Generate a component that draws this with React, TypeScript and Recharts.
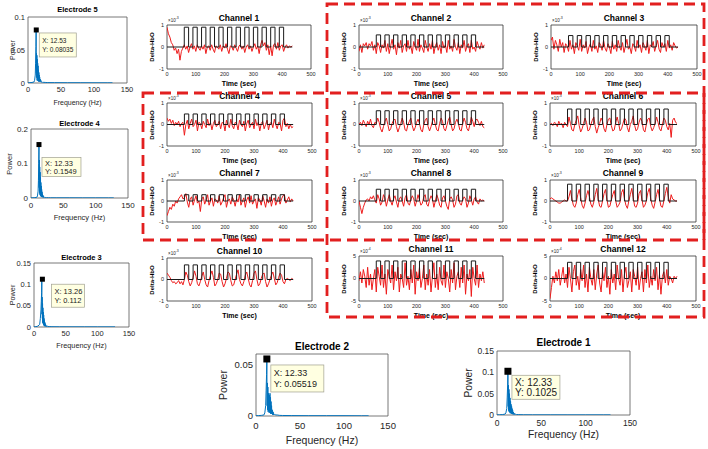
import React from "react";
import { LineChart, Line, XAxis, YAxis, ReferenceArea, ReferenceDot } from "recharts";

// ---- time series (units of 10^-3, channels 11/12 in 10^-4) ----
const TIME = [
  0, 5, 10, 15, 20, 25, 30, 35, 40, 45, 50, 55,
  60, 65, 70, 75, 80, 85, 90, 95, 100, 105, 110, 115,
  120, 125, 130, 135, 140, 145, 150, 155, 160, 165, 170, 175,
  180, 185, 190, 195, 200, 205, 210, 215, 220, 225, 230, 235,
  240, 245, 250, 255, 260, 265, 270, 275, 280, 285, 290, 295,
  300, 305, 310, 315, 320, 325, 330, 335, 340, 345, 350, 355,
  360, 365, 370, 375, 380, 385, 390, 395, 400, 405, 410, 415,
  420, 425, 430, 435,
];
const TIME_TICKS = [0, 100, 200, 300, 400, 500];
const STIM_ONSETS = [60, 90, 120, 150, 180, 210, 240, 270, 300, 330, 360, 390];
const STIM_LENGTH = 15;
const RECORD_END = 435;

const CH1 = [
  0.9, 0.6, 0.45, 0.2, 0.1, -0.15, -0.05, -0.3, -0.1, -0.6, -0.2, -0.05,
  0.1, -0.1, 0.05, -0.25, 0.0, 0.15, -0.1, 0.05, -0.2, 0.1, -0.05, -0.15,
  0.05, -0.1, 0.1, -0.3, 0.0, 0.05, -0.15, 0.1, -0.1, -0.25, 0.05, 0.0,
  -0.1, 0.1, -0.2, 0.05, -0.05, 0.15, -0.1, -0.3, 0.05, 0.0, -0.15, 0.1,
  -0.05, -0.2, 0.05, 0.1, -0.1, 0.05, -0.25, 0.0, 0.1, -0.1, 0.05, -0.2,
  0.0, 0.15, -0.1, 0.05, -0.3, 0.1, 0.3, 0.05, 0.2, -0.15, 0.1, -0.35,
  0.05, -0.4, 0.1, 0.15, -0.1, 0.2, -0.15, 0.05, 0.1, -0.2, 0.0, 0.1,
  -0.05, 0.05, 0.0, 0.05,
];
const CH2 = [
  -0.2, 0.1, -0.25, 0.15, 0.05, 0.2, -0.1, 0.15, 0.05, 0.25, -0.15, 0.1,
  -0.3, 0.2, 0.05, -0.25, 0.1, -0.05, 0.3, -0.2, 0.15, -0.3, 0.05, 0.35,
  -0.1, 0.1, -0.35, 0.2, -0.05, 0.3, -0.25, 0.05, 0.15, -0.2, 0.3, -0.1,
  0.05, -0.3, 0.25, 0.0, -0.15, 0.35, -0.2, 0.1, -0.05, -0.25, 0.3, 0.0,
  -0.2, 0.15, -0.1, 0.3, -0.3, 0.05, 0.2, -0.15, 0.1, -0.3, 0.25, -0.05,
  0.1, -0.25, 0.3, -0.1, 0.05, -0.2, 0.35, 0.0, -0.15, 0.2, -0.3, 0.1,
  -0.05, 0.3, -0.2, 0.05, 0.15, -0.25, 0.3, -0.1, 0.0, -0.2, 0.25, 0.05,
  -0.1, 0.2, -0.05, 0.1,
];
const CH3 = [
  0.3, 0.45, -0.1, 0.3, 0.1, -0.2, 0.35, 0.0, 0.2, -0.25, 0.15, 0.05,
  -0.2, 0.3, -0.1, 0.1, -0.3, 0.2, 0.05, -0.15, 0.35, -0.2, 0.1, -0.05,
  0.25, -0.3, 0.0, 0.15, -0.2, 0.3, -0.1, 0.05, -0.25, 0.2, 0.1, -0.15,
  0.3, -0.05, -0.2, 0.15, 0.0, -0.3, 0.25, -0.1, 0.1, -0.2, 0.3, 0.0,
  -0.15, 0.2, -0.25, 0.05, 0.35, -0.1, 0.0, -0.3, 0.15, 0.05, -0.2, 0.3,
  -0.05, 0.1, -0.25, 0.2, 0.05, -0.15, 0.3, -0.3, 0.1, 0.0, 0.25, -0.2,
  0.05, 0.3, -0.1, -0.25, 0.2, 0.0, 0.15, -0.2, 0.3, -0.05, 0.1, -0.15,
  0.2, 0.05, -0.05, 0.0,
];
const CH4 = [
  0.3, 0.15, 0.25, 0.05, 0.2, -0.05, 0.1, 0.0, 0.15, -0.1, 0.05, 0.1,
  -0.5, 0.0, 0.2, -0.2, 0.05, 0.25, -0.1, 0.0, 0.2, -0.3, 0.1, 0.05,
  -0.2, 0.15, 0.0, -0.15, 0.25, -0.05, 0.1, -0.25, 0.05, 0.2, -0.1, 0.0,
  0.15, -0.2, 0.1, 0.05, -0.3, 0.2, 0.0, -0.15, 0.25, -0.05, -0.2, 0.1,
  0.05, -0.25, 0.2, 0.0, -0.1, 0.15, -0.3, 0.05, 0.2, -0.15, 0.0, 0.1,
  -0.2, 0.25, -0.05, 0.1, -0.3, 0.05, 0.15, -0.2, 0.0, 0.2, -0.25, 0.05,
  0.1, -0.15, 0.25, 0.0, -0.2, 0.1, 0.05, -0.3, 0.2, 0.3, -0.1, 0.05,
  -0.2, 0.0, -0.15, -0.1,
];
const CH5 = [
  0.0, 0.1, -0.05, 0.2, 0.05, -0.1, 0.15, 0.0, 0.25, -0.05, -0.15, 0.1,
  0.05, 0.3, 0.1, -0.2, -0.35, -0.1, 0.15, 0.3, 0.0, -0.3, -0.2, 0.05,
  0.2, 0.25, -0.1, -0.35, -0.15, 0.05, 0.3, 0.1, -0.25, -0.3, 0.0, 0.15,
  0.3, -0.05, -0.3, -0.15, 0.1, 0.25, 0.05, -0.25, -0.35, 0.0, 0.2, 0.3,
  -0.1, -0.3, -0.1, 0.15, 0.3, 0.0, -0.25, -0.3, 0.05, 0.3, 0.15, -0.2,
  -0.3, -0.05, 0.2, 0.35, 0.0, -0.3, -0.2, 0.1, 0.25, 0.05, -0.25, -0.3,
  0.05, 0.3, 0.1, -0.2, -0.3, 0.0, 0.35, 0.15, -0.1, 0.2, 0.25, 0.1,
  -0.05, 0.15, -0.1, -0.15,
];
const CH6 = [
  0.0, 0.05, -0.05, 0.1, 0.05, -0.1, 0.15, 0.0, 0.05, -0.15, 0.1, 0.0,
  -0.1, 0.35, 0.05, -0.25, -0.3, 0.0, 0.2, 0.4, -0.05, -0.35, -0.2, 0.05,
  0.3, 0.1, -0.3, -0.25, 0.0, 0.2, 0.35, -0.1, -0.4, -0.15, 0.05, 0.3,
  0.15, -0.2, -0.35, 0.0, 0.25, 0.3, -0.05, -0.3, -0.25, 0.1, 0.35, 0.05,
  -0.3, -0.2, 0.05, 0.3, 0.2, -0.15, -0.35, 0.0, 0.15, 0.4, -0.05, -0.3,
  -0.2, 0.1, 0.3, 0.15, -0.25, -0.35, 0.0, 0.25, 0.3, -0.1, -0.3, -0.15,
  0.05, 0.35, 0.1, -0.2, -0.3, 0.0, 0.3, 0.2, -0.1, -0.25, 0.05, -0.6,
  0.2, 0.3, 0.1, 0.05,
];
const CH7 = [
  -0.7, -0.5, -0.3, -0.4, -0.15, -0.25, 0.0, -0.1, 0.1, 0.2, 0.3, 0.1,
  0.15, 0.35, -0.05, -0.3, 0.1, 0.2, -0.2, 0.05, 0.25, -0.1, 0.0, -0.5,
  0.1, 0.2, -0.15, 0.05, 0.3, -0.2, 0.0, 0.15, -0.25, 0.1, 0.05, -0.1,
  0.25, -0.2, -0.05, 0.15, 0.3, -0.3, 0.0, 0.1, -0.15, 0.2, 0.05, -0.25,
  0.1, -0.05, 0.3, -0.2, 0.0, 0.15, -0.3, 0.05, 0.2, -0.1, 0.25, -0.15,
  0.0, 0.1, -0.35, 0.15, 0.05, -0.2, 0.25, 0.0, -0.3, 0.1, -0.1, 0.2,
  -0.25, 0.05, 0.15, -0.2, 0.0, 0.2, -0.15, 0.1, 0.25, 0.3, -0.1, 0.05,
  0.2, -0.05, 0.1, 0.0,
];
const CH8 = [
  0.0, -0.3, -0.6, -0.3, -0.1, 0.05, 0.1, 0.0, 0.2, 0.1, 0.25, 0.05,
  -0.1, 0.3, 0.1, -0.2, -0.05, 0.3, 0.15, -0.25, 0.05, 0.3, 0.0, -0.2,
  0.1, 0.25, -0.05, -0.3, 0.1, 0.2, 0.0, -0.25, 0.15, 0.3, -0.1, -0.2,
  0.05, 0.25, 0.1, -0.25, 0.0, 0.3, 0.05, -0.2, -0.1, 0.2, 0.3, -0.15,
  -0.25, 0.05, 0.25, 0.1, -0.3, 0.0, 0.3, 0.1, -0.2, -0.3, 0.15, 0.25,
  0.0, -0.25, -0.4, 0.1, 0.2, 0.05, -0.3, -0.15, 0.25, 0.3, -0.1, -0.2,
  0.05, 0.2, 0.1, -0.3, -0.1, 0.25, 0.05, -0.2, 0.1, 0.2, -0.05, -0.15,
  0.1, 0.0, 0.05, 0.0,
];
const CH9 = [
  0.1, 0.15, 0.1, 0.05, 0.0, -0.05, -0.1, -0.1, -0.05, 0.0, 0.05, 0.0,
  0.0, 0.2, 0.5, 0.1, -0.2, -0.3, -0.1, 0.3, 0.55, 0.15, -0.2, -0.35,
  -0.1, 0.25, 0.5, 0.2, -0.15, -0.3, -0.05, 0.3, 0.6, 0.1, -0.25, -0.3,
  0.0, 0.35, 0.55, 0.05, -0.3, -0.25, 0.05, 0.3, 0.5, 0.0, -0.3, -0.2,
  -0.05, 0.4, 0.55, 0.1, -0.2, -0.35, 0.0, 0.3, 0.6, 0.15, -0.25, -0.3,
  -0.1, 0.35, 0.5, 0.05, -0.3, -0.2, 0.0, 0.4, 0.6, 0.1, -0.2, -0.35,
  -0.05, 0.3, 0.55, 0.1, -0.25, -0.3, 0.0, 0.35, 0.65, 0.2, -0.1, 0.3,
  0.1, 0.05, 0.0, 0.0,
];
const CH10 = [
  0.3, 0.2, 0.1, -0.05, -0.15, -0.1, -0.2, -0.15, -0.05, -0.2, -0.1, -0.25,
  0.0, 0.35, 0.2, -0.1, -0.3, -0.15, 0.1, 0.4, 0.15, -0.2, -0.3, -0.1,
  0.15, 0.35, 0.0, -0.25, -0.35, -0.05, 0.2, 0.4, 0.1, -0.3, -0.2, 0.0,
  0.3, 0.25, -0.1, -0.35, -0.2, 0.05, 0.35, 0.3, -0.05, -0.3, -0.25, 0.0,
  0.25, 0.45, 0.0, -0.2, -0.3, -0.1, 0.2, 0.35, 0.05, -0.25, -0.35, -0.05,
  0.3, 0.4, 0.0, -0.3, -0.2, 0.05, 0.25, 0.3, -0.1, -0.35, -0.2, 0.0,
  0.2, 0.35, 0.05, -0.25, -0.15, 0.1, 0.3, 0.2, -0.1, -0.2, 0.0, 0.05,
  0.0, -0.05, 0.05, 0.0,
];
const CH11 = [
  -0.5, 1.5, -1.0, 2.0, 0.5, -2.0, 2.5, -1.5, 1.0, -2.5, 0.0, 2.0,
  -3.0, 2.5, 0.5, -1.5, 3.0, -2.0, 1.0, -3.5, 2.0, 0.5, -1.0, 3.0,
  -2.5, 1.5, -0.5, 2.5, -3.0, 1.0, 0.0, -2.0, 3.5, -1.5, 0.5, -2.5,
  2.0, -1.0, 3.0, -3.5, 1.5, -0.5, 2.5, -2.0, 0.0, 3.0, -2.5, 1.0,
  -1.5, 2.0, -3.0, 0.5, 3.5, -2.0, 1.0, -2.5, 2.5, -0.5, -1.5, 3.0,
  -2.0, 1.5, 0.0, -3.0, 2.0, -1.0, 3.5, -2.5, 0.5, 1.5, -2.0, 2.5,
  -1.0, 3.0, -3.5, 1.0, -0.5, 2.0, -4.0, 2.5, 0.0, -1.5, 3.0, -2.0,
  1.0, -0.5, 1.5, -1.0,
];
const CH12 = [
  -4.5, -2.0, 0.5, -1.0, 1.5, -0.5, 2.0, -1.5, 0.5, 2.5, -1.0, 1.0,
  -2.0, 2.5, 0.0, -3.0, 1.5, 3.0, -1.5, 0.5, -2.5, 2.0, -0.5, 3.0,
  -2.0, 1.0, -3.0, 2.5, 0.0, -1.5, 2.0, -2.5, 1.0, 3.0, -1.0, -3.0,
  1.5, -0.5, 2.5, -2.0, 0.5, -3.5, 2.0, -1.0, 1.0, -2.5, 3.0, 0.0,
  -1.5, 2.0, -3.0, 1.0, 2.5, -2.0, -0.5, 1.5, -3.0, 2.0, 0.5, -1.5,
  2.5, -2.5, 0.0, 1.5, -3.0, 2.0, -1.0, 3.0, -2.0, 0.5, -1.5, 2.0,
  -0.5, 2.5, -2.5, 1.0, -3.5, 0.5, 1.5, -1.0, 2.0, -1.5, 0.5, 0.0,
  -1.0, 0.5, 0.0, 0.5,
];

const CHANNEL_NAMES = [
  "Channel 1", "Channel 2", "Channel 3", "Channel 4", "Channel 5", "Channel 6",
  "Channel 7", "Channel 8", "Channel 9", "Channel 10", "Channel 11", "Channel 12",
];
const CHANNEL_SIGNALS = [CH1, CH2, CH3, CH4, CH5, CH6, CH7, CH8, CH9, CH10, CH11, CH12];
const STIM_HEIGHTS = [0.9, 0.55, 0.52, 0.49, 0.64, 0.72, 0.3, 0.56, 0.8, 0.68, 3.9, 3.6];
const CHANNEL_Y_MAX = [1, 1, 1, 1, 1, 1, 1, 1, 1, 1, 5, 5];
const CHANNEL_EXPONENT = ["-3", "-3", "-3", "-3", "-3", "-3", "-3", "-3", "-3", "-3", "-4", "-4"];

// ---- power spectra ----
const FREQ = [
  0, 3, 6, 9, 10, 11, 11.5, 12, 12.33,
  12.6, 12.9, 13.2, 13.5, 13.8, 14.1, 14.4, 14.7, 15, 15.3,
  15.6, 15.9, 16.2, 16.5, 16.8, 17.1, 17.4, 17.7, 18, 18.5,
  19, 19.5, 20, 21, 22, 24, 27, 30, 40, 60,
  80, 100, 120, 128,
];
const FREQ_TICKS = [0, 50, 100, 150];
const POWER_E5 = [
  0.0004, 0.0005, 0.0008, 0.0015, 0.004, 0.012, 0.03, 0.055, 0.0803,
  0.015, 0.045, 0.008, 0.042, 0.004, 0.036, 0.006, 0.03, 0.003, 0.026,
  0.005, 0.02, 0.002, 0.016, 0.004, 0.012, 0.002, 0.009, 0.003, 0.006,
  0.002, 0.004, 0.001, 0.002, 0.001, 0.001, 0.0008, 0.0006, 0.0005, 0.0004,
  0.0004, 0.0003, 0.0003, 0.0003,
];
const POWER_E4 = [
  0.0005, 0.0007, 0.001, 0.002, 0.006, 0.02, 0.05, 0.1, 0.1549,
  0.03, 0.11, 0.015, 0.09, 0.01, 0.075, 0.008, 0.06, 0.005, 0.045,
  0.006, 0.035, 0.003, 0.025, 0.004, 0.018, 0.002, 0.012, 0.003, 0.008,
  0.002, 0.005, 0.001, 0.003, 0.001, 0.001, 0.0008, 0.0006, 0.0005, 0.0005,
  0.0004, 0.0004, 0.0003, 0.0003,
];
const POWER_E3 = [
  0.0005, 0.0008, 0.002, 0.006, 0.02, 0.04, 0.06, 0.08, 0.112,
  0.03, 0.07, 0.02, 0.055, 0.01, 0.045, 0.008, 0.035, 0.006, 0.028,
  0.004, 0.02, 0.003, 0.015, 0.002, 0.011, 0.002, 0.008, 0.002, 0.005,
  0.001, 0.003, 0.001, 0.002, 0.001, 0.001, 0.0008, 0.0006, 0.0005, 0.0004,
  0.0004, 0.0003, 0.0003, 0.0003,
];
const POWER_E2 = [
  0.0003, 0.0004, 0.0006, 0.001, 0.003, 0.01, 0.025, 0.04, 0.05519,
  0.01, 0.032, 0.006, 0.028, 0.004, 0.022, 0.005, 0.018, 0.003, 0.02,
  0.004, 0.022, 0.003, 0.018, 0.002, 0.014, 0.002, 0.01, 0.002, 0.006,
  0.001, 0.004, 0.001, 0.002, 0.001, 0.001, 0.0006, 0.0005, 0.0004, 0.0003,
  0.0003, 0.0003, 0.0002, 0.0002,
];
const POWER_E1 = [
  0.0004, 0.0006, 0.001, 0.002, 0.005, 0.015, 0.04, 0.07, 0.1025,
  0.02, 0.07, 0.01, 0.06, 0.007, 0.05, 0.006, 0.04, 0.004, 0.032,
  0.005, 0.025, 0.003, 0.02, 0.003, 0.015, 0.002, 0.011, 0.002, 0.007,
  0.001, 0.004, 0.001, 0.002, 0.001, 0.001, 0.0007, 0.0005, 0.0004, 0.0004,
  0.0003, 0.0003, 0.0003, 0.0003,
];
const ELECTRODE_NAMES = ["Electrode 5", "Electrode 4", "Electrode 3", "Electrode 2", "Electrode 1"];
const ELECTRODE_POWER = [POWER_E5, POWER_E4, POWER_E3, POWER_E2, POWER_E1];
const PEAK_X = [12.53, 12.33, 13.26, 12.33, 12.33];
const PEAK_Y = [0.08035, 0.1549, 0.112, 0.05519, 0.1025];
const PEAK_LABEL_X = ["X: 12.53", "X: 12.33", "X: 13.26", "X: 12.33", "X: 12.33"];
const PEAK_LABEL_Y = ["Y: 0.08035", "Y: 0.1549", "Y: 0.112", "Y: 0.05519", "Y: 0.1025"];
const POWER_MAX = [0.1, 0.2, 0.15, 0.06, 0.15];
const POWER_TICKS = [[0, 0.05, 0.1], [0, 0.1, 0.2], [0, 0.05, 0.1, 0.15], [0, 0.05], [0, 0.05, 0.1, 0.15]];

// ---- layout ----
const FONT = "Arial, 'Liberation Sans', Helvetica, sans-serif";
const AXIS = "#262626";
const RED = "#ee1c1c";
const BLUE = "#0072bd";

const CHANNEL_BOXES = [
  { x: 167, y: 25, w: 144, h: 44 }, { x: 359, y: 25, w: 144, h: 44 }, { x: 551, y: 25, w: 146, h: 44 },
  { x: 167, y: 103, w: 145, h: 43 }, { x: 359, y: 103, w: 144, h: 43 }, { x: 550, y: 103, w: 146, h: 43 },
  { x: 167, y: 180, w: 145, h: 42 }, { x: 359, y: 180, w: 144, h: 42 }, { x: 550, y: 180, w: 146, h: 42 },
  { x: 167, y: 258, w: 145, h: 43 }, { x: 359, y: 256, w: 144, h: 45 }, { x: 550, y: 256, w: 146, h: 45 },
];

const ELECTRODE_BOXES = [
  { x: 28, y: 17, w: 99, h: 66, tick: 7.5, gap: 2, label: 7, title: 7.5, titleDy: -7, powerDx: -16, freqDy: 19, marker: 5, tip: { dx: 3, dy: 3, w: 37, h: 24, font: 6.5 } },
  { x: 31, y: 129, w: 97, h: 69, tick: 8, gap: 2, label: 7.5, title: 7.5, titleDy: -5, powerDx: -21, freqDy: 20, marker: 5, tip: { dx: 3, dy: 13, w: 39, h: 19, font: 7.5 } },
  { x: 34, y: 263, w: 95, h: 64, tick: 7.5, gap: 2, label: 7.3, title: 7.5, titleDy: -5, powerDx: -21, freqDy: 19, marker: 5, tip: { dx: 9, dy: 5, w: 33, h: 23, font: 7.5 } },
  { x: 256, y: 354, w: 132, h: 62, tick: 9.5, gap: 4, label: 10.5, title: 10, titleDy: -7, powerDx: -33, freqDy: 24, marker: 7, tip: { dx: 4, dy: 6, w: 53, h: 27, font: 9 } },
  { x: 497, y: 351, w: 133, h: 64, tick: 8.5, gap: 3, label: 10.3, title: 10, titleDy: -8, powerDx: -28, freqDy: 20, marker: 7, tip: { dx: 4, dy: 4, w: 48, h: 24, font: 10 } },
];

function Txt({ x, y, size, bold, rotate, children }: any) {
  return (
    <div
      style={{
        position: "absolute",
        left: x,
        top: y,
        transform: `translate(-50%, -50%)${rotate ? " rotate(-90deg)" : ""}`,
        fontSize: size,
        fontWeight: bold ? 700 : 400,
        color: bold ? "#000" : AXIS,
        whiteSpace: "nowrap",
        lineHeight: 1,
      }}
    >
      {children}
    </div>
  );
}

function ChannelPlot({ index }: { index: number }) {
  const box = CHANNEL_BOXES[index];
  const yMax = CHANNEL_Y_MAX[index];
  const values = CHANNEL_SIGNALS[index];
  const signal = TIME.map((t, i) => ({ t, v: values[i] }));
  const stim = [{ t: 0, v: 0 }];
  for (const on of STIM_ONSETS) {
    stim.push({ t: on, v: STIM_HEIGHTS[index] });
    stim.push({ t: on + STIM_LENGTH, v: 0 });
  }
  stim.push({ t: RECORD_END, v: 0 });

  const ML = 22, MT = 3, MR = 9, MB = 10;
  return (
    <>
      <div style={{ position: "absolute", left: box.x - ML, top: box.y - MT }}>
        <LineChart width={box.w + ML + MR} height={box.h + MT + MB} margin={{ top: MT, right: MR, bottom: 0, left: 0 }}>
          <XAxis dataKey="t" type="number" domain={[0, 500]} ticks={TIME_TICKS} interval={0} height={MB}
            tickSize={2} tickMargin={1} tickLine={false} axisLine={false} tick={{ fontSize: 5.5, fill: AXIS }} allowDataOverflow />
          <YAxis type="number" domain={[-yMax, yMax]} ticks={[-yMax, 0, yMax]} interval={0} width={ML}
            tickSize={2} tickMargin={1} tickLine={false} axisLine={false} tick={{ fontSize: 5.5, fill: AXIS }} allowDataOverflow />
          <ReferenceArea x1={0} x2={500} y1={-yMax} y2={yMax} fill="#fff" fillOpacity={0} stroke="#333" strokeWidth={0.8} />
          <Line data={signal} dataKey="v" stroke={RED} strokeWidth={1} dot={false} isAnimationActive={false} />
          <Line data={stim} dataKey="v" type="stepAfter" stroke="#1a1a1a" strokeWidth={1} dot={false} isAnimationActive={false} />
        </LineChart>
      </div>
      <Txt x={box.x + box.w / 2} y={box.y - 7} size={8.5} bold>{CHANNEL_NAMES[index]}</Txt>
      <Txt x={box.x + box.w / 2} y={box.y + box.h + 14} size={7} bold>Time (sec)</Txt>
      <Txt x={box.x - 15} y={box.y + box.h / 2} size={6} bold rotate>Delta-HbO</Txt>
      <div style={{ position: "absolute", left: box.x + 1, top: box.y - 8, fontSize: 4.5, color: AXIS, whiteSpace: "nowrap", lineHeight: 1 }}>
        ×10<sup style={{ fontSize: 3.5 }}>{CHANNEL_EXPONENT[index]}</sup>
      </div>
    </>
  );
}

function SpectrumPlot({ index }: { index: number }) {
  const box = ELECTRODE_BOXES[index];
  const tip = box.tip;
  const power = ELECTRODE_POWER[index];
  const data = FREQ.map((f, i) => ({ f, p: power[i] }));
  const yMax = POWER_MAX[index];
  const m = box.marker;

  const tipShape = (props: any) => {
    const { cx, cy } = props;
    return (
      <g>
        <rect x={cx + tip.dx} y={cy + tip.dy} width={tip.w} height={tip.h} fill="#ffffe1" stroke="#a0a090" strokeWidth={0.7} />
        <text x={cx + tip.dx + 3} y={cy + tip.dy + tip.h * 0.33} fontSize={tip.font} fill="#222" dominantBaseline="middle" fontFamily={FONT}>
          {PEAK_LABEL_X[index]}
        </text>
        <text x={cx + tip.dx + 3} y={cy + tip.dy + tip.h * 0.74} fontSize={tip.font} fill="#222" dominantBaseline="middle" fontFamily={FONT}>
          {PEAK_LABEL_Y[index]}
        </text>
        <rect x={cx - m / 2} y={cy - m / 2} width={m} height={m} fill="#000" />
      </g>
    );
  };

  const ML = 36, MT = 4, MR = 14, MB = 16;
  return (
    <>
      <div style={{ position: "absolute", left: box.x - ML, top: box.y - MT }}>
        <LineChart width={box.w + ML + MR} height={box.h + MT + MB} data={data} margin={{ top: MT, right: MR, bottom: 0, left: 0 }}>
          <XAxis dataKey="f" type="number" domain={[0, 150]} ticks={FREQ_TICKS} interval={0} height={MB}
            tickSize={2} tickMargin={box.gap} tickLine={false} axisLine={false} tick={{ fontSize: box.tick, fill: AXIS }} />
          <YAxis type="number" domain={[0, yMax]} ticks={POWER_TICKS[index]} interval={0} width={ML}
            tickSize={2} tickMargin={1} tickLine={false} axisLine={false} tick={{ fontSize: box.tick, fill: AXIS }} allowDataOverflow />
          <ReferenceArea x1={0} x2={150} y1={0} y2={yMax} fill="#fff" fillOpacity={0} stroke="#555" strokeWidth={0.8} />
          <Line dataKey="p" stroke={BLUE} strokeWidth={1} dot={false} isAnimationActive={false} />
          <ReferenceDot x={PEAK_X[index]} y={PEAK_Y[index]} r={3} shape={tipShape} />
        </LineChart>
      </div>
      <Txt x={box.x + box.w / 2} y={box.y + box.titleDy} size={box.title} bold>{ELECTRODE_NAMES[index]}</Txt>
      <Txt x={box.x + box.w / 2} y={box.y + box.h + box.freqDy} size={box.label}>Frequency (Hz)</Txt>
      <Txt x={box.x + box.powerDx} y={box.y + box.h / 2} size={box.label} rotate>Power</Txt>
    </>
  );
}

export default function App() {
  return (
    <div style={{ position: "fixed", left: 0, top: 0, width: 708, height: 449, background: "#fff", fontFamily: FONT, overflow: "hidden" }}>
      {CHANNEL_NAMES.map((_, i) => (
        <ChannelPlot key={i} index={i} />
      ))}
      {ELECTRODE_NAMES.map((_, i) => (
        <SpectrumPlot key={i} index={i} />
      ))}
      <svg width={708} height={449} style={{ position: "absolute", left: 0, top: 0, pointerEvents: "none" }}>
        <rect x={327} y={4} width={377} height={313} fill="none" stroke="#e21f1f" strokeWidth={2.8} strokeDasharray="11 6" />
        <rect x={143} y={93} width={561} height={147} fill="none" stroke="#e21f1f" strokeWidth={2.8} strokeDasharray="11 6" />
      </svg>
    </div>
  );
}
